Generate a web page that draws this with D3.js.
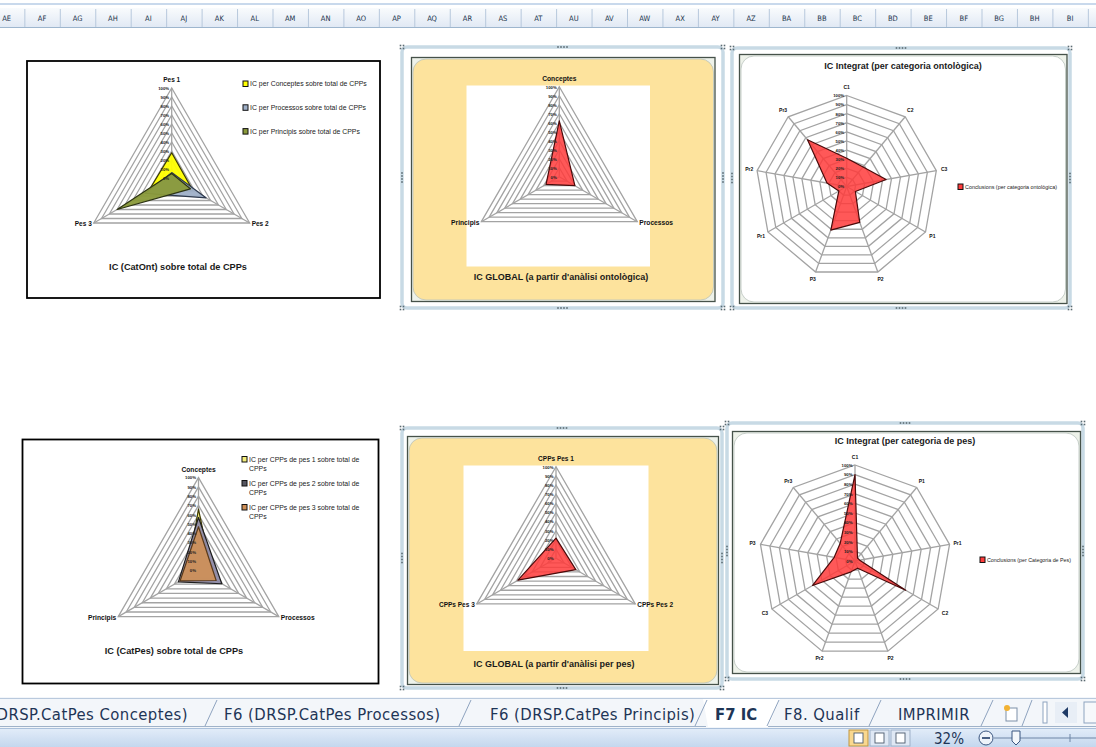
<!DOCTYPE html>
<html>
<head>
<meta charset="utf-8">
<script src="https://cdn.jsdelivr.net/npm/d3@7"></script>
<style>
  html, body { margin: 0; padding: 0; background: #ffffff; overflow: hidden; }
  svg { display: block; }
</style>
</head>
<body>
<svg id="sheet" width="1096" height="747"></svg>
<script>
// ---------------- data ----------------
const columnLabels = ["AE","AF","AG","AH","AI","AJ","AK","AL","AM","AN","AO","AP","AQ","AR","AS","AT","AU","AV","AW","AX","AY","AZ","BA","BB","BC","BD","BE","BF","BG","BH","BI"];

const gridTicks = [0, 0.1, 0.2, 0.3, 0.4, 0.5, 0.6, 0.7, 0.8, 0.9, 1];

// IC (CatOnt) sobre total de CPPs
const catOntCategories = ["Pes 1", "Pes 2", "Pes 3"];
const icConceptes = [0.28, 0.27, 0.30];
const icProcessos = [0.06, 0.44, 0.34];
const icPrincipis = [0.05, 0.24, 0.70];
const catOntSeriesNames = [
  "IC per Conceptes sobre total de CPPs",
  "IC per Processos sobre total de CPPs",
  "IC per Principis sobre total de CPPs"
];

// IC GLOBAL (a partir d'anàlisi ontològica)
const globalOntCategories = ["Conceptes", "Processos", "Principis"];
const globalOntValues = [0.62, 0.20, 0.17];

// IC Integrat (per categoria ontològica)
const integratOntCategories = ["C1", "C2", "C3", "P1", "P2", "P3", "Pr1", "Pr2", "Pr3"];
const integratOntValues = [0.31, 0.28, 0.44, 0.11, 0.42, 0.51, 0.10, 0.22, 0.67];
const integratOntSeriesName = "Conclusions (per categoria ontològica)";

// IC (CatPes) sobre total de CPPs
const catPesCategories = ["Conceptes", "Processos", "Principis"];
const icPes1 = [0.66, 0.18, 0.15];
const icPes2 = [0.57, 0.29, 0.25];
const icPes3 = [0.47, 0.22, 0.23];
const catPesSeriesNames = [
  "IC per CPPs de pes 1 sobre total de CPPs",
  "IC per CPPs de pes 2 sobre total de CPPs",
  "IC per CPPs de pes 3 sobre total de CPPs"
];

// IC GLOBAL (a partir d'anàlisi per pes)
const globalPesCategories = ["CPPs Pes 1", "CPPs Pes 2", "CPPs Pes 3"];
const globalPesValues = [0.22, 0.25, 0.48];

// IC Integrat (per categoria de pes)
const integratPesCategories = ["C1", "P1", "Pr1", "C2", "P2", "Pr2", "C3", "P3", "Pr3"];
const integratPesValues = [0.90, 0.04, 0.05, 0.61, 0.08, 0.12, 0.51, 0.22, 0.24];
const integratPesSeriesName = "Conclusions (per Categoria de Pes)";

const sheetTabs = ["F6 (DRSP.CatPes Conceptes)", "F6 (DRSP.CatPes Processos)", "F6 (DRSP.CatPes Principis)", "F7 IC", "F8. Qualif", "IMPRIMIR"];
const zoomText = "32%";

// ---------------- drawing ----------------
const svg = d3.select("#sheet");
const chartFont = "'Liberation Sans', Arial, sans-serif";
const uiFont = "'DejaVu Sans Condensed', 'DejaVu Sans', sans-serif";

const defs = svg.append("defs");
const hdrGrad = defs.append("linearGradient").attr("id", "hdrGrad").attr("x1", 0).attr("x2", 0).attr("y1", 0).attr("y2", 1);
hdrGrad.append("stop").attr("offset", 0).attr("stop-color", "#f9fbfd");
hdrGrad.append("stop").attr("offset", 1).attr("stop-color", "#e1e9f4");
const statusGrad = defs.append("linearGradient").attr("id", "statusGrad").attr("x1", 0).attr("x2", 0).attr("y1", 0).attr("y2", 1);
statusGrad.append("stop").attr("offset", 0).attr("stop-color", "#e3edf9");
statusGrad.append("stop").attr("offset", 1).attr("stop-color", "#c4d7ee");

// --- column header strip ---
const colW = 35.45;
const colX = d3.scaleLinear().domain([0, 1]).range([-11.1, -11.1 + colW]);
svg.append("rect").attr("x", 0).attr("y", 3).attr("width", 1096).attr("height", 2).attr("fill", "#c9d9ec");
svg.append("rect").attr("x", 0).attr("y", 8).attr("width", 1096).attr("height", 19).attr("fill", "url(#hdrGrad)");
svg.append("line").attr("x1", 0).attr("x2", 1096).attr("y1", 27.5).attr("y2", 27.5).attr("stroke", "#9eb6ce");
const hdr = svg.append("g");
hdr.selectAll("line").data(columnLabels).join("line")
  .attr("x1", (d, i) => colX(i + 1) + 0.5).attr("x2", (d, i) => colX(i + 1) + 0.5)
  .attr("y1", 9).attr("y2", 27).attr("stroke", "#b7c8dc");
hdr.selectAll("text").data(columnLabels).join("text")
  .attr("x", (d, i) => colX(i + 0.5)).attr("y", 21)
  .attr("text-anchor", "middle").attr("font-family", uiFont).attr("font-size", 7.5)
  .attr("fill", "#22344c").text(d => d);

// --- generic radar ---
function radar(o) {
  const n = o.categories.length;
  const ang = d3.scaleLinear().domain([0, n]).range([0, 2 * Math.PI]);
  const rad = d3.scaleLinear().domain([0, 1]).range([0, o.radius]);
  const idx = d3.range(n);
  const g = svg.append("g").attr("transform", `translate(${o.cx},${o.cy})`);

  // concentric rings
  const ring = v => d3.lineRadial().angle(i => ang(i)).radius(rad(v)).curve(d3.curveLinearClosed)(idx);
  g.append("g").selectAll("path").data(gridTicks.slice(1)).join("path")
    .attr("d", ring).attr("fill", "none").attr("stroke", "#a3a3a3").attr("stroke-width", 1.3);
  // spokes
  g.append("g").selectAll("line").data(idx).join("line")
    .attr("x2", i => rad(1) * Math.sin(ang(i))).attr("y2", i => -rad(1) * Math.cos(ang(i)))
    .attr("stroke", "#a3a3a3").attr("stroke-width", 1.3);

  // series
  const shape = d3.lineRadial().angle((d, i) => ang(i)).radius(d => rad(d)).curve(d3.curveLinearClosed);
  g.append("g").selectAll("path").data(o.series).join("path")
    .attr("d", s => shape(s.values))
    .attr("fill", s => s.fill).attr("fill-opacity", s => s.opacity)
    .attr("stroke", s => s.stroke).attr("stroke-width", 1.2).attr("stroke-linejoin", "round");

  // value ticks along the first spoke
  const tickScale = d3.scaleLinear().domain([0, 1]).range([0, -o.radius]);
  const ax = g.append("g").attr("transform", "translate(-1,0)")
    .call(d3.axisLeft(tickScale).tickValues(gridTicks).tickFormat(d3.format(".0%")).tickSize(0).tickPadding(1.5));
  ax.select(".domain").remove();
  ax.attr("font-size", o.tickFont).attr("font-family", chartFont).attr("font-weight", "bold");
  ax.selectAll("text").attr("fill", "#222");

  // category labels
  const lab = g.append("g").attr("font-family", chartFont).attr("font-size", o.labelFont)
    .attr("font-weight", "bold").attr("fill", "#111");
  if (n === 3) {
    lab.selectAll("text").data(o.categories).join("text")
      .attr("x", (d, i) => i === 0 ? 0 : (i === 1 ? rad(1) * Math.sin(ang(1)) + 2 : rad(1) * Math.sin(ang(2)) - 2))
      .attr("y", (d, i) => i === 0 ? -rad(1) - 6 : rad(1) * 0.5 + 3)
      .attr("text-anchor", (d, i) => i === 0 ? "middle" : (i === 1 ? "start" : "end"))
      .text(d => d);
  } else {
    lab.selectAll("text").data(o.categories).join("text")
      .attr("x", (d, i) => (rad(1) + 8) * Math.sin(ang(i)))
      .attr("y", (d, i) => -(rad(1) + 8) * Math.cos(ang(i)))
      .attr("dy", "0.35em").attr("text-anchor", "middle")
      .text(d => d);
  }
}

function title(x, y, text, size) {
  svg.append("text").attr("x", x).attr("y", y).attr("text-anchor", "middle")
    .attr("font-family", chartFont).attr("font-weight", "bold").attr("font-size", size)
    .attr("fill", "#1a1a1a").text(text);
}

// chart frame with rounded chart area and resize handles
function frame(outer, inner, fill) {
  svg.append("rect").attr("x", outer[0]).attr("y", outer[1]).attr("width", outer[2]).attr("height", outer[3])
    .attr("rx", 5).attr("fill", "#ffffff").attr("stroke", "#c8dae5").attr("stroke-width", 3.5);
  svg.append("rect").attr("x", inner[0]).attr("y", inner[1]).attr("width", inner[2]).attr("height", inner[3])
    .attr("fill", "#eef2ea").attr("stroke", "#46524a").attr("stroke-width", 1.3);
  svg.append("rect").attr("x", inner[0] + 1.5).attr("y", inner[1] + 1.5).attr("width", inner[2] - 3).attr("height", inner[3] - 3)
    .attr("rx", 13).attr("fill", fill).attr("stroke", "#b9c3bd").attr("stroke-width", 0.8);
  // handle dots
  const mx = outer[0] + outer[2] / 2, my = outer[1] + outer[3] / 2;
  const dots = [];
  [-4.5, -1.5, 1.5, 4.5].forEach(k => {
    dots.push([mx + k, outer[1]], [mx + k, outer[1] + outer[3]]);
    dots.push([outer[0], my + k], [outer[0] + outer[2], my + k]);
  });
  [[outer[0], outer[1]], [outer[0] + outer[2], outer[1]], [outer[0], outer[1] + outer[3]], [outer[0] + outer[2], outer[1] + outer[3]]]
    .forEach(([x, y]) => { [[-1.5, -1.5], [1.5, -1.5], [-1.5, 1.5], [1.5, 1.5]].forEach(([a, b]) => dots.push([x + a, y + b])); });
  svg.append("g").selectAll("rect").data(dots).join("rect")
    .attr("x", d => d[0] - 0.8).attr("y", d => d[1] - 0.8).attr("width", 1.6).attr("height", 1.6).attr("fill", "#5a6a72");
}

function legend(x, y0, step, items, fs, wrap) {
  const g = svg.append("g").attr("font-family", chartFont).attr("font-size", fs).attr("fill", "#222");
  items.forEach((it, k) => {
    const y = y0 + k * step;
    g.append("rect").attr("x", x).attr("y", y - 3).attr("width", 5).attr("height", 5.5)
      .attr("fill", it.fill).attr("stroke", "#111").attr("stroke-width", 1);
    const t = g.append("text").attr("x", x + 7).attr("y", y + 2);
    if (wrap) {
      const words = it.name.split(" ");
      let line = [], tspan = t.append("tspan").attr("x", x + 7).attr("y", y + 2);
      words.forEach(w => {
        line.push(w);
        tspan.text(line.join(" "));
        if (tspan.node().getComputedTextLength() > wrap && line.length > 1) {
          line.pop(); tspan.text(line.join(" "));
          line = [w];
          tspan = t.append("tspan").attr("x", x + 7).attr("dy", fs * 1.4).text(w);
        }
      });
    } else {
      t.text(it.name);
    }
  });
}

// ===== Chart 1: IC (CatOnt) =====
svg.append("rect").attr("x", 27).attr("y", 61).attr("width", 353).attr("height", 237)
  .attr("fill", "#fff").attr("stroke", "#000").attr("stroke-width", 1.8);
radar({
  cx: 171.7, cy: 178, radius: 90, categories: catOntCategories, tickFont: 4.3, labelFont: 6.5,
  series: [
    { values: icConceptes, fill: "#ffff00", stroke: "#3a3a00", opacity: 0.95 },
    { values: icProcessos, fill: "#9fb0c8", stroke: "#2e3a4e", opacity: 0.95 },
    { values: icPrincipis, fill: "#8a9a3a", stroke: "#2c3312", opacity: 0.95 }
  ]
});
legend(243, 84, 23.8, catOntSeriesNames.map((name, k) => ({ name, fill: ["#ffff00", "#9fb0c8", "#8a9a3a"][k] })), 6.9, 0);
title(178, 270, "IC (CatOnt) sobre total de CPPs", 9.2);

// ===== Chart 2: IC GLOBAL (ontològica) =====
frame([402, 47, 321, 261], [411.5, 57.5, 303.5, 244], "#fde39d");
svg.append("rect").attr("x", 466.5).attr("y", 85.5).attr("width", 183.5).attr("height", 181).attr("fill", "#fff");
radar({
  cx: 559.3, cy: 176.7, radius: 90, categories: globalOntCategories, tickFont: 4.3, labelFont: 6.7,
  series: [{ values: globalOntValues, fill: "#ff3b3b", stroke: "#4a0a0a", opacity: 0.85 }]
});
title(561, 280, "IC GLOBAL  (a partir d'anàlisi ontològica)", 9);

// ===== Chart 3: IC Integrat (ontològica) =====
frame([732, 48, 338, 260], [739.5, 54.5, 327.5, 249], "#ffffff");
radar({
  cx: 846.7, cy: 186.5, radius: 91, categories: integratOntCategories, tickFont: 4.3, labelFont: 5,
  series: [{ values: integratOntValues, fill: "#ff3b3b", stroke: "#4a0a0a", opacity: 0.85 }]
});
legend(958, 187, 0, [{ name: integratOntSeriesName, fill: "#ff3b3b" }], 5.4, 0);
title(903, 68.5, "IC Integrat (per categoria ontològica)", 9);

// ===== Chart 4: IC (CatPes) =====
svg.append("rect").attr("x", 22.5).attr("y", 439.5).attr("width", 356).attr("height", 244)
  .attr("fill", "#fff").attr("stroke", "#000").attr("stroke-width", 1.8);
radar({
  cx: 198.5, cy: 570.3, radius: 92.7, categories: catPesCategories, tickFont: 4.3, labelFont: 6.7,
  series: [
    { values: icPes1, fill: "#f4ee7a", stroke: "#3f3a00", opacity: 0.95 },
    { values: icPes2, fill: "#8e8aa6", stroke: "#1d1d1d", opacity: 0.95 },
    { values: icPes3, fill: "#cf9057", stroke: "#5a3a1a", opacity: 0.9 }
  ]
});
legend(242, 459.5, 24, catPesSeriesNames.map((name, k) => ({ name, fill: ["#f4ee7a", "#555560", "#cf9057"][k] })), 6.9, 118);
title(174, 654, "IC (CatPes) sobre total de CPPs", 9.2);

// ===== Chart 5: IC GLOBAL (pes) =====
frame([402, 428, 320, 260], [407.5, 436.5, 311, 248], "#fde39d");
svg.append("rect").attr("x", 463.5).attr("y", 465.5).attr("width", 185).attr("height", 185.5).attr("fill", "#fff");
radar({
  cx: 556, cy: 558.2, radius: 91.5, categories: globalPesCategories, tickFont: 4.3, labelFont: 6.5,
  series: [{ values: globalPesValues, fill: "#ff3b3b", stroke: "#4a0a0a", opacity: 0.85 }]
});
title(554, 667, "IC GLOBAL  (a partir d'anàlisi per pes)", 9);

// ===== Chart 6: IC Integrat (pes) =====
frame([727, 423, 356, 256], [732.5, 431.5, 348, 242], "#ffffff");
radar({
  cx: 855, cy: 561, radius: 96, categories: integratPesCategories, tickFont: 4.3, labelFont: 5,
  series: [{ values: integratPesValues, fill: "#ff3b3b", stroke: "#4a0a0a", opacity: 0.85 }]
});
legend(980, 560, 0, [{ name: integratPesSeriesName, fill: "#ff3b3b" }], 5.3, 0);
title(905, 443.5, "IC Integrat (per categoria de pes)", 9);

// ---------------- sheet tabs ----------------
svg.append("rect").attr("x", 0).attr("y", 697).attr("width", 1096).attr("height", 31).attr("fill", "#f3f6fa");
svg.append("line").attr("x1", 0).attr("x2", 1096).attr("y1", 698.5).attr("y2", 698.5).attr("stroke", "#b9c9dd");
// active tab background
svg.append("path").attr("d", "M703,699 L708,727 L768,727 L780,699 Z").attr("fill", "#ffffff");
svg.append("line").attr("x1", 0).attr("x2", 706).attr("y1", 726.5).attr("y2", 726.5).attr("stroke", "#9fb2c9");
svg.append("line").attr("x1", 768).attr("x2", 1096).attr("y1", 726.5).attr("y2", 726.5).attr("stroke", "#9fb2c9");
const tabGeom = [
  { end: 188, sepR: 212 },
  { start: 224, sepR: 466 },
  { start: 490, sepR: 702 },
  { start: 715, sepR: 774 },
  { start: 784, sepR: 876 },
  { start: 898, sepR: 988 }
];
const tabs = svg.append("g").attr("font-family", uiFont).attr("font-size", 16.5).attr("fill", "#1e3556");
sheetTabs.forEach((name, k) => {
  const gm = tabGeom[k];
  const active = name === "F7 IC";
  const t = tabs.append("text").attr("y", 720).text(name)
    .attr("font-weight", active ? "bold" : "normal")
    .attr("letter-spacing", active ? 0 : 0.45);
  if (gm.end !== undefined) t.attr("x", gm.end).attr("text-anchor", "end");
  else t.attr("x", gm.start);
  // slanted separator between tabs
  tabs.append("line").attr("x1", gm.sepR - 7).attr("y1", 726).attr("x2", gm.sepR + 5).attr("y2", 700)
    .attr("stroke", "#8ea3bf").attr("stroke-width", 1);
});
// new sheet icon
const ic = svg.append("g").attr("transform", "translate(1003,704)");
ic.append("rect").attr("x", 3).attr("y", 4).attr("width", 11).attr("height", 13).attr("fill", "#ffffff").attr("stroke", "#7d8fa8");
ic.append("circle").attr("cx", 4).attr("cy", 4).attr("r", 3).attr("fill", "#f2b233");
svg.append("line").attr("x1", 1022).attr("y1", 726).attr("x2", 1032).attr("y2", 700).attr("stroke", "#8ea3bf");
// scroll controls
svg.append("rect").attr("x", 1043).attr("y", 702).attr("width", 4).attr("height", 21).attr("fill", "#ffffff").attr("stroke", "#8ea3bf");
svg.append("rect").attr("x", 1055).attr("y", 702).attr("width", 22).attr("height", 21).attr("fill", "#e8eef6");
svg.append("path").attr("d", "M1068,707 L1062,712.5 L1068,718 Z").attr("fill", "#1f3a66");
svg.append("rect").attr("x", 1084).attr("y", 702).attr("width", 14).attr("height", 21).attr("fill", "#f6f8fb").attr("stroke", "#8ea3bf");

// ---------------- status bar ----------------
svg.append("rect").attr("x", 0).attr("y", 728).attr("width", 1096).attr("height", 19).attr("fill", "url(#statusGrad)");
svg.append("line").attr("x1", 0).attr("x2", 1096).attr("y1", 728.5).attr("y2", 728.5).attr("stroke", "#aac0db");
const vb = svg.append("g");
[[849, true], [870, false], [891, false]].forEach(([x, on]) => {
  vb.append("rect").attr("x", x).attr("y", 730).attr("width", 19).attr("height", 16)
    .attr("fill", on ? "#f9d88f" : "#dfe8f4").attr("stroke", on ? "#c2953e" : "#9fb2c9");
  vb.append("rect").attr("x", x + 5).attr("y", 733).attr("width", 9).attr("height", 10)
    .attr("fill", "#ffffff").attr("stroke", "#4d5b6d").attr("stroke-width", 0.9);
});
svg.append("text").attr("x", 934).attr("y", 744).attr("font-family", uiFont).attr("font-size", 15)
  .attr("fill", "#1e3556").text(zoomText);
svg.append("circle").attr("cx", 986).attr("cy", 738).attr("r", 7).attr("fill", "#eef3fa").attr("stroke", "#3b5680");
svg.append("line").attr("x1", 982).attr("x2", 990).attr("y1", 738).attr("y2", 738).attr("stroke", "#1f3a66").attr("stroke-width", 1.6);
svg.append("line").attr("x1", 994).attr("x2", 1096).attr("y1", 738).attr("y2", 738).attr("stroke", "#6f86a6");
svg.append("line").attr("x1", 1070).attr("x2", 1070).attr("y1", 734).attr("y2", 742).attr("stroke", "#6f86a6");
svg.append("path").attr("d", "M1012,731 L1020,731 L1020,741 L1016,745 L1012,741 Z").attr("fill", "#f4f7fb").attr("stroke", "#3b5680");
</script>
</body>
</html>
